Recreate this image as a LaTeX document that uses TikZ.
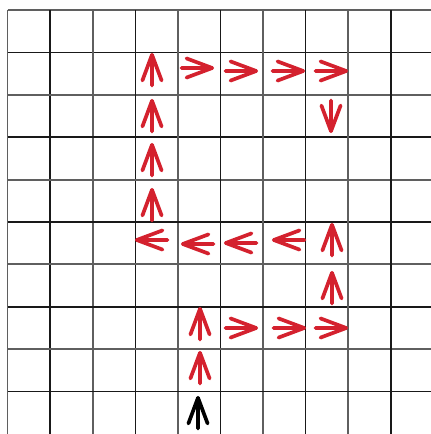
\documentclass[tikz,border=0pt]{standalone}
\usetikzlibrary{calc}
\definecolor{arrred}{RGB}{212,33,46}
\definecolor{gridgray}{RGB}{95,95,95}
\definecolor{griddark}{RGB}{25,25,25}
\tikzset{
  arrowline/.style={line width=3.7pt, line cap=round, line join=round},
  arr/.pic={\draw[arrowline] (-32.5,0) -- (-1.8,0) (-27.5,-9.6) -- (-1.8,0) -- (-27.5,9.6);},
  gridA/.style={draw=gridgray, line width=1.9pt},
  gridB/.style={draw=griddark, line width=1.5pt}
}
\begin{document}
\begin{tikzpicture}[x=1pt,y=-1pt]
\useasboundingbox[fill=white] (0,0) rectangle (431,434);
% grid
\foreach \k in {0,...,9}{
  \pgfmathsetmacro{\xx}{7.5+42.6*\k}
  \pgfmathsetmacro{\yy}{10+42.4*\k}
  \ifodd\k
    \draw[gridB] (\xx,10) -- (\xx,434);
    \draw[gridB] (7.5,\yy) -- (431,\yy);
  \else
    \draw[gridA] (\xx,10) -- (\xx,434);
    \draw[gridA] (7.5,\yy) -- (431,\yy);
  \fi
}
% row 1: right arrows
\pic[color=arrred] at (214,68) {arr};
\pic[color=arrred] at (258,71) {arr};
\pic[color=arrred] at (305,71) {arr};
\pic[color=arrred] at (348,71) {arr};
% down arrow
\pic[color=arrred, rotate=-90] at (331,133) {arr};
% column 3 up arrows
\pic[color=arrred, rotate=90] at (152,53) {arr};
\pic[color=arrred, rotate=90] at (152,99) {arr};
\pic[color=arrred, rotate=90] at (152,143) {arr};
\pic[color=arrred, rotate=90] at (152,188) {arr};
% column 7 up arrows
\pic[color=arrred, rotate=90] at (332,223) {arr};
\pic[color=arrred, rotate=90] at (332,271) {arr};
% row 5 left arrows
\pic[color=arrred, rotate=180] at (135,240) {arr};
\pic[color=arrred, rotate=180] at (181,244) {arr};
\pic[color=arrred, rotate=180] at (224,243) {arr};
\pic[color=arrred, rotate=180] at (272,240) {arr};
% row 7 right arrows
\pic[color=arrred] at (258,328) {arr};
\pic[color=arrred] at (306,328) {arr};
\pic[color=arrred] at (348,328) {arr};
% column 4 up arrows
\pic[color=arrred, rotate=90] at (200,307) {arr};
\pic[color=arrred, rotate=90] at (200,351) {arr};
\pic[color=black, rotate=90] at (198,396) {arr};
\end{tikzpicture}
\end{document}
